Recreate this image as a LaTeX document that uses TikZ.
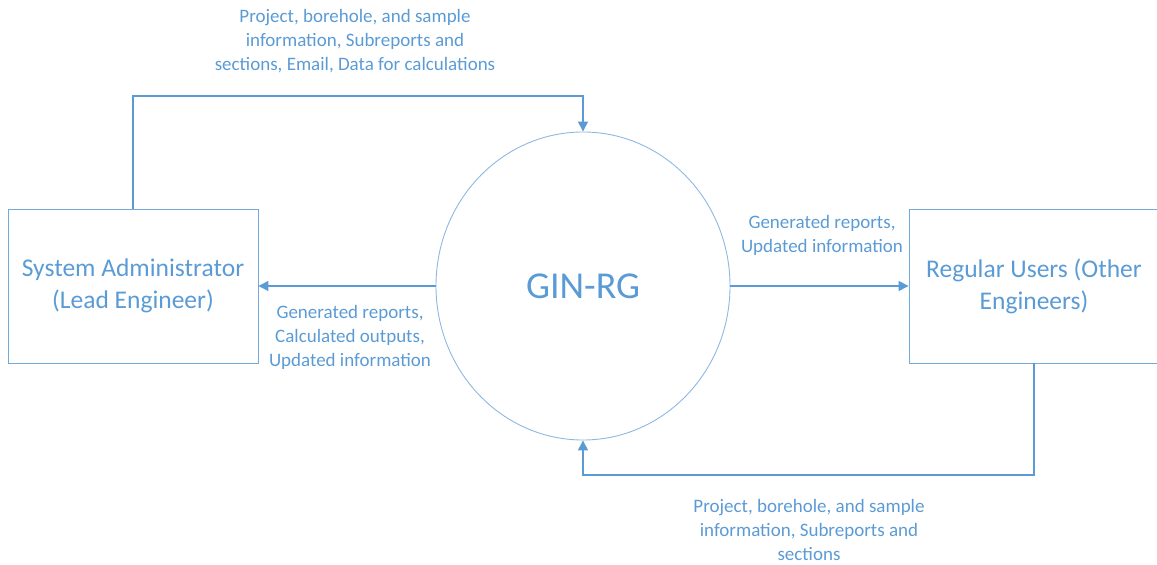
\documentclass[tikz,border=0pt]{standalone}
\usepackage{fontspec}
\setmainfont{Carlito}
\usetikzlibrary{arrows.meta,shapes.geometric}
\definecolor{ob}{HTML}{5B9BD5}
\definecolor{obl}{HTML}{8DB8E2}
\begin{document}
\begin{tikzpicture}[x=1bp,y=-1bp,
  box/.style={draw=ob!85, line width=0.9bp, minimum width=250bp, minimum height=154bp, text=ob, font=\fontsize{25.5bp}{32bp}\selectfont, align=center, inner sep=0},
  proc/.style={ellipse, draw=obl, line width=0.9bp, minimum width=294bp, minimum height=308bp, text=ob, font=\fontsize{38bp}{44bp}\selectfont, inner sep=0},
  lbl/.style={text=ob, font=\fontsize{19bp}{24bp}\selectfont, align=center, inner sep=0},
  flow/.style={draw=ob, line width=1.4bp, -{Triangle[length=10bp,width=10bp]}}]
\useasboundingbox (0,0) rectangle (1157,565);
\clip (0,0) rectangle (1157,565);
\node[box] (sa) at (133,286) {System Administrator\\(Lead Engineer)};
\node[box] (ru) at (1034,286) {Regular Users (Other\\Engineers)};
\node[proc] (gin) at (583,286) {GIN-RG};
\coordinate (t) at (133,96);
\coordinate (b) at (1034,475);
\draw[flow] (sa.north) -- (t) -| (gin.north);
\draw[flow] (ru.south) -- (b) -| (gin.south);
\draw[flow] (gin.west) -- (sa.east);
\draw[flow] (gin.east) -- (ru.west);
\node[lbl] (l1) at (355,41) {Project, borehole, and sample\\information, Subreports and\\sections, Email, Data for calculations};
\node[lbl] (l2) at (350,337) {Generated reports,\\Calculated outputs,\\Updated information};
\node[lbl] (l3) at (822,235) {Generated reports,\\Updated information};
\node[lbl] (l4) at (809,530) {Project, borehole, and sample\\information, Subreports and\\sections};
\end{tikzpicture}
\end{document}
